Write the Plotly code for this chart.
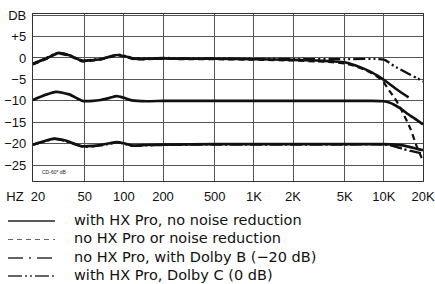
import plotly.graph_objects as go
import math

# ---------------- data ----------------
x_tick_vals = [20, 50, 100, 200, 500, 1000, 2000, 5000, 10000, 20000]
x_tick_text = ["HZ\u00a0\u00a020\u00a0\u00a0\u00a0\u00a0", "50", "100", "200", "500", "1K", "2K", "5K", "10K", "20K"]
y_tick_vals = [10, 5, 0, -5, -10, -15, -20, -25]
y_tick_text = ["DB", "+5", "0", "\u22125", "\u221210", "\u221215", "\u221220", "\u221225"]

# 0 dB group
freq_a_solid = [20, 25, 31, 38, 48, 58, 66, 78, 90, 105, 120, 150, 200, 300, 500, 1000, 2000, 3000,
                4000, 5000, 6000, 7000, 8000, 9000, 10000, 11000, 12000, 13500, 15500]
db_a_solid = [-1.4, -0.2, 1.1, 0.6, -0.7, -0.5, -0.3, 0.3, 0.7, 0.3, -0.2, -0.2, -0.1, -0.2, -0.2, -0.3, -0.45, -0.6,
              -0.8, -1.0, -1.7, -2.5, -3.3, -4.2, -5.1, -6.0, -6.9, -8.0, -9.2]

freq_a_dash = [20, 25, 31, 38, 48, 58, 66, 78, 90, 105, 120, 150, 200, 300, 500, 1000, 2000, 3000,
               4000, 5000, 6000, 7000, 8000, 9000, 10000, 11000, 12500, 14000, 16000, 18000, 20000]
db_a_dash = [-1.5, -0.3, 1.0, 0.5, -0.8, -0.6, -0.4, 0.2, 0.6, 0.2, -0.3, -0.3, -0.2, -0.3, -0.3, -0.4, -0.6, -0.8,
             -1.0, -1.3, -1.9, -2.7, -3.5, -4.5, -5.8, -7.6, -10.0, -12.8, -16.5, -20.8, -24.0]

freq_a_ddot = [20, 25, 31, 38, 48, 58, 66, 78, 90, 105, 120, 150, 200, 300, 500, 1000, 2000, 5000,
               10000, 12000, 14000, 16000, 18000, 20000]
db_a_ddot = [-1.3, -0.1, 1.2, 0.7, -0.6, -0.4, -0.2, 0.3, 0.8, 0.4, -0.1, -0.1, 0.0, -0.1, -0.1, -0.2, -0.25, -0.3,
             -0.4, -1.9, -3.0, -3.9, -4.7, -5.5]

# -10 dB group
freq_b_solid = [20, 25, 30, 38, 48, 58, 66, 78, 88, 100, 115, 150, 200, 300, 500, 1000, 2000, 5000, 8000,
                10000, 11000, 12000, 13500, 15000, 17000, 20000]
db_b_solid = [-9.8, -8.6, -7.9, -8.5, -10.0, -10.0, -9.8, -9.3, -8.9, -9.3, -9.9, -10.1, -10.0, -10.0, -10.0, -10.0,
              -10.0, -10.0, -10.0, -10.1, -10.4, -10.9, -11.8, -12.9, -14.0, -15.5]

# -20 dB group
freq_c = [20, 25, 29, 35, 48, 58, 66, 78, 88, 100, 115, 150, 200, 500, 1000, 2000, 5000, 10000,
          12000, 14000, 16000, 18000, 20000]
db_c_solid = [-20.2, -19.3, -18.8, -19.2, -20.6, -20.5, -20.3, -19.9, -19.6, -19.9, -20.4, -20.3, -20.2, -20.1,
              -20.1, -20.1, -20.1, -20.1, -20.2, -20.4, -20.8, -21.2, -21.5]
db_c_dashdot = [-20.3, -19.4, -18.9, -19.3, -20.7, -20.6, -20.4, -20.0, -19.7, -20.0, -20.5, -20.4, -20.3, -20.2,
                -20.2, -20.2, -20.2, -20.2, -20.6, -21.2, -21.7, -22.0, -22.3]

legend_labels = ["with HX Pro, no noise reduction",
                 "no HX Pro or noise reduction",
                 "no HX Pro, with Dolby B (\u221220 dB)",
                 "with HX Pro, Dolby C (0 dB)"]

# ---------------- layout geometry ----------------
W, H = 435, 284
L, R, T, B = 33, 12, 14, 103
PW, PH = W - L - R, H - T - B

def px(x):
    return (x - L) / PW

def py(y):
    return (H - B - y) / PH

INK = "#111111"
DASH = "6px,4px"
DASHDOT = "12px,3px,2px,3px"
DASHDOTDOT = "12px,3px,2px,3px,2px,3px"

fig = go.Figure()

def add(f, d, dash, width, name):
    fig.add_trace(go.Scatter(x=f, y=d, mode="lines", name=name,
                             line=dict(color=INK, width=width, dash=dash, shape="spline", smoothing=0.6),
                             showlegend=False, hoverinfo="skip"))

add(freq_a_ddot, db_a_ddot, DASHDOTDOT, 2.3, legend_labels[3])
add(freq_a_dash, db_a_dash, DASH, 2.2, legend_labels[1])
add(freq_a_solid, db_a_solid, "solid", 2.6, legend_labels[0])
add(freq_b_solid, db_b_solid, "solid", 2.7, legend_labels[0])
add(freq_c, db_c_dashdot, DASHDOT, 2.3, legend_labels[2])
add(freq_c, db_c_solid, "solid", 2.7, legend_labels[0])

tick_font = dict(family="Liberation Sans, Arial, sans-serif", size=13, color="#111111")
fig.update_xaxes(type="log", range=[math.log10(20), math.log10(20000)],
                 tickvals=x_tick_vals, ticktext=x_tick_text, tickfont=tick_font,
                 showgrid=True, gridcolor="#555555", gridwidth=1,
                 showline=True, linecolor="#333333", linewidth=1.2, mirror=True,
                 ticks="", ticklabelstandoff=3, zeroline=False)
fig.update_yaxes(range=[-28.7, 10.25], tickvals=y_tick_vals, ticktext=y_tick_text, tickfont=tick_font,
                 showgrid=True, gridcolor="#555555", gridwidth=1,
                 showline=True, linecolor="#333333", linewidth=1.2, mirror=True,
                 ticks="", ticklabelstandoff=3, zeroline=False)

annotations = [
    dict(x=px(40), y=py(172), xref="paper", yref="paper", text="CD-60* dB", showarrow=False,
         xanchor="left", yanchor="middle", font=dict(family="Liberation Sans", size=5, color="#222")),
]

shapes = []
leg_y = [221, 239.5, 258, 276]
leg_dash = ["solid", "5px,4px", "15px,6px,2px,6px", "14px,3px,2px,3px,2px,3px"]
leg_w = [1.6, 1.1, 1.6, 1.6]
leg_c = ["#222222", "#666666", "#333333", "#333333"]
legend_font = dict(family="DejaVu Sans, sans-serif", size=14.5, color="#111111")
for yy, lab, dsh, lw, lc in zip(leg_y, legend_labels, leg_dash, leg_w, leg_c):
    shapes.append(dict(type="line", xref="paper", yref="paper", x0=px(8), x1=px(55),
                       y0=py(yy), y1=py(yy), line=dict(color=lc, width=lw, dash=dsh)))
    annotations.append(dict(x=px(72), y=py(yy - 1), xref="paper", yref="paper", text=lab, showarrow=False,
                            xanchor="left", yanchor="middle", font=legend_font))

fig.update_layout(width=W, height=H, margin=dict(l=L, r=R, t=T, b=B, autoexpand=False),
                  paper_bgcolor="white", plot_bgcolor="white", showlegend=False, hovermode=False,
                  annotations=annotations, shapes=shapes)

fig.write_html("out.html", config={"displayModeBar": False, "staticPlot": True},
               post_script="document.body.style.margin='0';document.body.style.overflow='hidden';")
